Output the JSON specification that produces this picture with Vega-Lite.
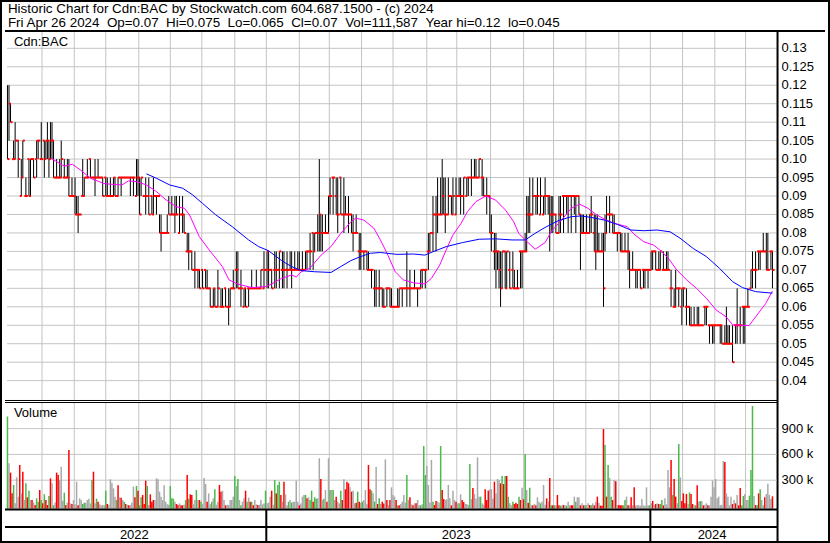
{
"$schema":"https://vega.github.io/schema/vega-lite/v6.json",
"width":830,"height":543,"padding":0,
"autosize":{"type":"none","contains":"padding"},
"background":"white",
"config":{"view":{"stroke":"black","strokeWidth":4}},
"datasets":{
"bars":[
{"t":0,"h":0.12,"l":0.1,"c":0.1,"v":1040,"k":"g"},
{"t":1,"h":0.12,"l":0.105,"c":0.115,"v":497,"k":"n"},
{"t":2,"h":0.115,"l":0.11,"c":0.11,"v":388,"k":"r"},
{"t":3,"h":0.1,"l":0.1,"c":0.1,"v":147,"k":"r"},
{"t":4,"h":0.105,"l":0.1,"c":0.1,"v":244,"k":"g"},
{"t":5,"h":0.11,"l":0.1,"c":0.105,"v":31,"k":"n"},
{"t":6,"h":0.105,"l":0.105,"c":0.105,"v":333,"k":"n"},
{"t":7,"h":0.105,"l":0.095,"c":0.1,"v":109,"k":"n"},
{"t":8,"h":0.09,"l":0.09,"c":0.09,"v":477,"k":"r"},
{"t":9,"h":0.1,"l":0.09,"c":0.095,"v":147,"k":"n"},
{"t":10,"h":0.105,"l":0.095,"c":0.105,"v":399,"k":"r"},
{"t":11,"h":0.09,"l":0.09,"c":0.09,"v":70,"k":"n"},
{"t":12,"h":0.095,"l":0.09,"c":0.09,"v":264,"k":"g"},
{"t":13,"h":0.1,"l":0.1,"c":0.1,"v":101,"k":"r"},
{"t":14,"h":0.1,"l":0.09,"c":0.09,"v":178,"k":"g"},
{"t":15,"h":0.1,"l":0.09,"c":0.1,"v":70,"k":"n"},
{"t":16,"h":0.1,"l":0.1,"c":0.1,"v":70,"k":"r"},
{"t":17,"h":0.1,"l":0.095,"c":0.095,"v":40,"k":"n"},
{"t":18,"h":0.1,"l":0.1,"c":0.1,"v":12,"k":"r"},
{"t":19,"h":0.105,"l":0.095,"c":0.105,"v":89,"k":"g"},
{"t":20,"h":0.105,"l":0.1,"c":0.105,"v":50,"k":"g"},
{"t":21,"h":0.1,"l":0.1,"c":0.1,"v":186,"k":"r"},
{"t":22,"h":0.11,"l":0.1,"c":0.1,"v":70,"k":"g"},
{"t":23,"h":0.105,"l":0.105,"c":0.105,"v":31,"k":"r"},
{"t":24,"h":0.105,"l":0.095,"c":0.1,"v":136,"k":"g"},
{"t":25,"h":0.105,"l":0.1,"c":0.105,"v":70,"k":"r"},
{"t":26,"h":0.11,"l":0.1,"c":0.105,"v":12,"k":"r"},
{"t":27,"h":0.105,"l":0.095,"c":0.1,"v":116,"k":"g"},
{"t":28,"h":0.11,"l":0.1,"c":0.105,"v":322,"k":"r"},
{"t":29,"h":0.11,"l":0.1,"c":0.105,"v":264,"k":"n"},
{"t":30,"h":0.105,"l":0.095,"c":0.095,"v":8,"k":"g"},
{"t":31,"h":0.095,"l":0.095,"c":0.095,"v":40,"k":"n"},
{"t":32,"h":0.1,"l":0.095,"c":0.095,"v":388,"k":"r"},
{"t":33,"h":0.095,"l":0.095,"c":0.095,"v":360,"k":"r"},
{"t":34,"h":0.1,"l":0.095,"c":0.095,"v":302,"k":"n"},
{"t":35,"h":0.105,"l":0.095,"c":0.1,"v":457,"k":"n"},
{"t":36,"h":0.095,"l":0.095,"c":0.095,"v":60,"k":"n"},
{"t":37,"h":0.1,"l":0.095,"c":0.095,"v":155,"k":"g"},
{"t":38,"h":0.095,"l":0.095,"c":0.095,"v":12,"k":"r"},
{"t":39,"h":0.1,"l":0.095,"c":0.095,"v":40,"k":"n"},
{"t":40,"h":0.1,"l":0.09,"c":0.09,"v":651,"k":"r"},
{"t":41,"h":0.09,"l":0.09,"c":0.09,"v":31,"k":"n"},
{"t":42,"h":0.095,"l":0.09,"c":0.09,"v":23,"k":"r"},
{"t":43,"h":0.09,"l":0.09,"c":0.09,"v":70,"k":"n"},
{"t":44,"h":0.095,"l":0.085,"c":0.085,"v":20,"k":"n"},
{"t":45,"h":0.09,"l":0.085,"c":0.085,"v":283,"k":"n"},
{"t":46,"h":0.09,"l":0.08,"c":0.085,"v":8,"k":"r"},
{"t":47,"h":0.085,"l":0.085,"c":0.085,"v":89,"k":"n"},
{"t":48,"h":0.09,"l":0.09,"c":0.09,"v":70,"k":"n"},
{"t":49,"h":0.1,"l":0.09,"c":0.09,"v":23,"k":"g"},
{"t":50,"h":0.095,"l":0.09,"c":0.095,"v":39,"k":"g"},
{"t":51,"h":0.095,"l":0.095,"c":0.095,"v":39,"k":"n"},
{"t":52,"h":0.1,"l":0.095,"c":0.095,"v":70,"k":"n"},
{"t":53,"h":0.1,"l":0.1,"c":0.1,"v":85,"k":"n"},
{"t":54,"h":0.1,"l":0.095,"c":0.095,"v":30,"k":"n"},
{"t":55,"h":0.095,"l":0.095,"c":0.095,"v":302,"k":"g"},
{"t":56,"h":0.095,"l":0.095,"c":0.095,"v":399,"k":"r"},
{"t":57,"h":0.1,"l":0.09,"c":0.095,"v":31,"k":"n"},
{"t":58,"h":0.095,"l":0.095,"c":0.095,"v":85,"k":"g"},
{"t":59,"h":0.1,"l":0.095,"c":0.095,"v":50,"k":"r"},
{"t":60,"h":0.095,"l":0.095,"c":0.095,"v":20,"k":"n"},
{"t":61,"h":0.095,"l":0.095,"c":0.095,"v":8,"k":"n"},
{"t":62,"h":0.095,"l":0.09,"c":0.09,"v":12,"k":"n"},
{"t":63,"h":0.095,"l":0.095,"c":0.095,"v":8,"k":"n"},
{"t":64,"h":0.095,"l":0.09,"c":0.09,"v":178,"k":"g"},
{"t":65,"h":0.095,"l":0.09,"c":0.09,"v":23,"k":"r"},
{"t":66,"h":0.09,"l":0.09,"c":0.09,"v":15,"k":"n"},
{"t":67,"h":0.095,"l":0.09,"c":0.09,"v":310,"k":"n"},
{"t":68,"h":0.09,"l":0.09,"c":0.09,"v":271,"k":"n"},
{"t":69,"h":0.095,"l":0.09,"c":0.095,"v":205,"k":"n"},
{"t":70,"h":0.095,"l":0.09,"c":0.09,"v":109,"k":"n"},
{"t":71,"h":0.09,"l":0.09,"c":0.09,"v":70,"k":"g"},
{"t":72,"h":0.095,"l":0.09,"c":0.095,"v":240,"k":"r"},
{"t":73,"h":0.095,"l":0.095,"c":0.095,"v":101,"k":"n"},
{"t":74,"h":0.095,"l":0.09,"c":0.095,"v":97,"k":"r"},
{"t":75,"h":0.095,"l":0.095,"c":0.095,"v":70,"k":"n"},
{"t":76,"h":0.095,"l":0.095,"c":0.095,"v":50,"k":"g"},
{"t":77,"h":0.095,"l":0.095,"c":0.095,"v":23,"k":"r"},
{"t":78,"h":0.095,"l":0.095,"c":0.095,"v":15,"k":"n"},
{"t":79,"h":0.095,"l":0.095,"c":0.095,"v":8,"k":"r"},
{"t":80,"h":0.095,"l":0.09,"c":0.095,"v":12,"k":"n"},
{"t":81,"h":0.095,"l":0.095,"c":0.095,"v":40,"k":"n"},
{"t":82,"h":0.095,"l":0.09,"c":0.095,"v":225,"k":"n"},
{"t":83,"h":0.09,"l":0.09,"c":0.09,"v":101,"k":"r"},
{"t":84,"h":0.1,"l":0.09,"c":0.095,"v":233,"k":"g"},
{"t":85,"h":0.1,"l":0.09,"c":0.095,"v":178,"k":"r"},
{"t":86,"h":0.095,"l":0.085,"c":0.085,"v":8,"k":"g"},
{"t":87,"h":0.095,"l":0.09,"c":0.095,"v":101,"k":"g"},
{"t":88,"h":0.09,"l":0.09,"c":0.09,"v":128,"k":"r"},
{"t":89,"h":0.09,"l":0.09,"c":0.09,"v":23,"k":"r"},
{"t":90,"h":0.095,"l":0.085,"c":0.09,"v":295,"k":"r"},
{"t":91,"h":0.09,"l":0.09,"c":0.09,"v":233,"k":"g"},
{"t":92,"h":0.095,"l":0.085,"c":0.085,"v":12,"k":"n"},
{"t":93,"h":0.09,"l":0.09,"c":0.09,"v":136,"k":"r"},
{"t":94,"h":0.09,"l":0.085,"c":0.085,"v":50,"k":"r"},
{"t":95,"h":0.095,"l":0.085,"c":0.09,"v":70,"k":"r"},
{"t":96,"h":0.09,"l":0.09,"c":0.09,"v":70,"k":"n"},
{"t":97,"h":0.09,"l":0.085,"c":0.09,"v":322,"k":"n"},
{"t":98,"h":0.09,"l":0.09,"c":0.09,"v":310,"k":"n"},
{"t":99,"h":0.085,"l":0.08,"c":0.08,"v":167,"k":"n"},
{"t":100,"h":0.085,"l":0.075,"c":0.08,"v":109,"k":"n"},
{"t":101,"h":0.08,"l":0.08,"c":0.08,"v":70,"k":"n"},
{"t":102,"h":0.08,"l":0.08,"c":0.08,"v":240,"k":"n"},
{"t":103,"h":0.08,"l":0.08,"c":0.08,"v":50,"k":"n"},
{"t":104,"h":0.085,"l":0.08,"c":0.08,"v":20,"k":"n"},
{"t":105,"h":0.09,"l":0.085,"c":0.085,"v":15,"k":"n"},
{"t":106,"h":0.085,"l":0.085,"c":0.085,"v":233,"k":"g"},
{"t":107,"h":0.09,"l":0.085,"c":0.085,"v":89,"k":"g"},
{"t":108,"h":0.085,"l":0.085,"c":0.085,"v":85,"k":"g"},
{"t":109,"h":0.09,"l":0.08,"c":0.085,"v":50,"k":"n"},
{"t":110,"h":0.09,"l":0.085,"c":0.085,"v":23,"k":"r"},
{"t":111,"h":0.08,"l":0.08,"c":0.08,"v":12,"k":"r"},
{"t":112,"h":0.09,"l":0.08,"c":0.085,"v":31,"k":"n"},
{"t":113,"h":0.085,"l":0.085,"c":0.085,"v":8,"k":"r"},
{"t":114,"h":0.09,"l":0.08,"c":0.085,"v":8,"k":"r"},
{"t":115,"h":0.085,"l":0.08,"c":0.08,"v":15,"k":"n"},
{"t":116,"h":0.075,"l":0.075,"c":0.075,"v":70,"k":"g"},
{"t":117,"h":0.08,"l":0.075,"c":0.075,"v":360,"k":"r"},
{"t":118,"h":0.08,"l":0.07,"c":0.075,"v":85,"k":"g"},
{"t":119,"h":0.075,"l":0.075,"c":0.075,"v":136,"k":"r"},
{"t":120,"h":0.075,"l":0.07,"c":0.07,"v":128,"k":"r"},
{"t":121,"h":0.07,"l":0.07,"c":0.07,"v":20,"k":"n"},
{"t":122,"h":0.075,"l":0.065,"c":0.07,"v":70,"k":"n"},
{"t":123,"h":0.07,"l":0.07,"c":0.07,"v":186,"k":"g"},
{"t":124,"h":0.07,"l":0.065,"c":0.07,"v":70,"k":"n"},
{"t":125,"h":0.07,"l":0.065,"c":0.065,"v":70,"k":"r"},
{"t":126,"h":0.07,"l":0.07,"c":0.07,"v":50,"k":"g"},
{"t":127,"h":0.07,"l":0.065,"c":0.065,"v":23,"k":"n"},
{"t":128,"h":0.07,"l":0.07,"c":0.07,"v":326,"k":"n"},
{"t":129,"h":0.07,"l":0.065,"c":0.065,"v":256,"k":"n"},
{"t":130,"h":0.07,"l":0.065,"c":0.065,"v":50,"k":"r"},
{"t":131,"h":0.065,"l":0.065,"c":0.065,"v":147,"k":"n"},
{"t":132,"h":0.065,"l":0.06,"c":0.06,"v":20,"k":"n"},
{"t":133,"h":0.06,"l":0.06,"c":0.06,"v":50,"k":"g"},
{"t":134,"h":0.065,"l":0.06,"c":0.065,"v":89,"k":"n"},
{"t":135,"h":0.065,"l":0.06,"c":0.06,"v":194,"k":"g"},
{"t":136,"h":0.06,"l":0.06,"c":0.06,"v":15,"k":"n"},
{"t":137,"h":0.07,"l":0.06,"c":0.065,"v":50,"k":"n"},
{"t":138,"h":0.06,"l":0.06,"c":0.06,"v":244,"k":"r"},
{"t":139,"h":0.065,"l":0.06,"c":0.06,"v":167,"k":"r"},
{"t":140,"h":0.065,"l":0.06,"c":0.06,"v":178,"k":"n"},
{"t":141,"h":0.065,"l":0.065,"c":0.065,"v":70,"k":"n"},
{"t":142,"h":0.065,"l":0.06,"c":0.06,"v":8,"k":"r"},
{"t":143,"h":0.06,"l":0.06,"c":0.06,"v":15,"k":"n"},
{"t":144,"h":0.065,"l":0.055,"c":0.06,"v":12,"k":"n"},
{"t":145,"h":0.065,"l":0.06,"c":0.065,"v":70,"k":"n"},
{"t":146,"h":0.065,"l":0.065,"c":0.065,"v":70,"k":"n"},
{"t":147,"h":0.07,"l":0.065,"c":0.065,"v":109,"k":"n"},
{"t":148,"h":0.07,"l":0.07,"c":0.07,"v":349,"k":"g"},
{"t":149,"h":0.075,"l":0.065,"c":0.07,"v":233,"k":"n"},
{"t":150,"h":0.075,"l":0.065,"c":0.065,"v":314,"k":"g"},
{"t":151,"h":0.065,"l":0.065,"c":0.065,"v":70,"k":"n"},
{"t":152,"h":0.07,"l":0.06,"c":0.065,"v":8,"k":"g"},
{"t":153,"h":0.06,"l":0.06,"c":0.06,"v":50,"k":"n"},
{"t":154,"h":0.065,"l":0.06,"c":0.065,"v":89,"k":"n"},
{"t":155,"h":0.065,"l":0.06,"c":0.06,"v":178,"k":"r"},
{"t":156,"h":0.065,"l":0.065,"c":0.065,"v":50,"k":"g"},
{"t":157,"h":0.065,"l":0.06,"c":0.065,"v":97,"k":"n"},
{"t":158,"h":0.065,"l":0.065,"c":0.065,"v":50,"k":"r"},
{"t":159,"h":0.07,"l":0.065,"c":0.065,"v":50,"k":"g"},
{"t":160,"h":0.065,"l":0.065,"c":0.065,"v":8,"k":"r"},
{"t":161,"h":0.065,"l":0.065,"c":0.065,"v":70,"k":"n"},
{"t":162,"h":0.07,"l":0.065,"c":0.065,"v":20,"k":"n"},
{"t":163,"h":0.065,"l":0.065,"c":0.065,"v":12,"k":"r"},
{"t":164,"h":0.065,"l":0.065,"c":0.065,"v":15,"k":"n"},
{"t":165,"h":0.07,"l":0.065,"c":0.07,"v":70,"k":"n"},
{"t":166,"h":0.065,"l":0.065,"c":0.065,"v":20,"k":"n"},
{"t":167,"h":0.075,"l":0.065,"c":0.07,"v":30,"k":"n"},
{"t":168,"h":0.07,"l":0.07,"c":0.07,"v":178,"k":"g"},
{"t":169,"h":0.075,"l":0.065,"c":0.075,"v":31,"k":"n"},
{"t":170,"h":0.075,"l":0.065,"c":0.07,"v":40,"k":"n"},
{"t":171,"h":0.07,"l":0.07,"c":0.07,"v":109,"k":"n"},
{"t":172,"h":0.07,"l":0.065,"c":0.065,"v":178,"k":"r"},
{"t":173,"h":0.07,"l":0.07,"c":0.07,"v":15,"k":"n"},
{"t":174,"h":0.075,"l":0.065,"c":0.07,"v":302,"k":"g"},
{"t":175,"h":0.075,"l":0.065,"c":0.07,"v":147,"k":"r"},
{"t":176,"h":0.07,"l":0.07,"c":0.07,"v":244,"k":"g"},
{"t":177,"h":0.075,"l":0.065,"c":0.075,"v":283,"k":"g"},
{"t":178,"h":0.07,"l":0.07,"c":0.07,"v":128,"k":"r"},
{"t":179,"h":0.075,"l":0.065,"c":0.07,"v":50,"k":"n"},
{"t":180,"h":0.075,"l":0.065,"c":0.07,"v":283,"k":"r"},
{"t":181,"h":0.07,"l":0.07,"c":0.07,"v":136,"k":"n"},
{"t":182,"h":0.075,"l":0.065,"c":0.07,"v":8,"k":"n"},
{"t":183,"h":0.07,"l":0.07,"c":0.07,"v":50,"k":"g"},
{"t":184,"h":0.075,"l":0.07,"c":0.07,"v":70,"k":"n"},
{"t":185,"h":0.075,"l":0.065,"c":0.07,"v":40,"k":"g"},
{"t":186,"h":0.07,"l":0.07,"c":0.07,"v":50,"k":"n"},
{"t":187,"h":0.075,"l":0.07,"c":0.07,"v":50,"k":"n"},
{"t":188,"h":0.07,"l":0.07,"c":0.07,"v":295,"k":"n"},
{"t":189,"h":0.075,"l":0.07,"c":0.07,"v":50,"k":"n"},
{"t":190,"h":0.075,"l":0.07,"c":0.07,"v":8,"k":"r"},
{"t":191,"h":0.07,"l":0.07,"c":0.07,"v":30,"k":"n"},
{"t":192,"h":0.075,"l":0.07,"c":0.07,"v":109,"k":"n"},
{"t":193,"h":0.07,"l":0.07,"c":0.07,"v":128,"k":"n"},
{"t":194,"h":0.075,"l":0.07,"c":0.075,"v":128,"k":"g"},
{"t":195,"h":0.075,"l":0.07,"c":0.075,"v":89,"k":"r"},
{"t":196,"h":0.075,"l":0.075,"c":0.075,"v":101,"k":"n"},
{"t":197,"h":0.08,"l":0.07,"c":0.075,"v":70,"k":"g"},
{"t":198,"h":0.08,"l":0.08,"c":0.08,"v":178,"k":"g"},
{"t":199,"h":0.08,"l":0.07,"c":0.075,"v":50,"k":"r"},
{"t":200,"h":0.08,"l":0.075,"c":0.08,"v":101,"k":"g"},
{"t":201,"h":0.08,"l":0.08,"c":0.08,"v":85,"k":"g"},
{"t":202,"h":0.085,"l":0.075,"c":0.08,"v":89,"k":"n"},
{"t":203,"h":0.1,"l":0.075,"c":0.085,"v":555,"k":"n"},
{"t":204,"h":0.085,"l":0.075,"c":0.08,"v":314,"k":"r"},
{"t":205,"h":0.085,"l":0.075,"c":0.08,"v":70,"k":"n"},
{"t":206,"h":0.08,"l":0.08,"c":0.08,"v":85,"k":"g"},
{"t":207,"h":0.085,"l":0.08,"c":0.08,"v":186,"k":"n"},
{"t":208,"h":0.08,"l":0.08,"c":0.08,"v":50,"k":"r"},
{"t":209,"h":0.09,"l":0.08,"c":0.09,"v":555,"k":"n"},
{"t":210,"h":0.095,"l":0.085,"c":0.09,"v":186,"k":"g"},
{"t":211,"h":0.095,"l":0.095,"c":0.095,"v":186,"k":"n"},
{"t":212,"h":0.095,"l":0.085,"c":0.095,"v":186,"k":"g"},
{"t":213,"h":0.09,"l":0.09,"c":0.09,"v":70,"k":"n"},
{"t":214,"h":0.095,"l":0.085,"c":0.085,"v":109,"k":"r"},
{"t":215,"h":0.095,"l":0.08,"c":0.085,"v":50,"k":"n"},
{"t":216,"h":0.095,"l":0.095,"c":0.095,"v":30,"k":"n"},
{"t":217,"h":0.095,"l":0.085,"c":0.085,"v":178,"k":"g"},
{"t":218,"h":0.085,"l":0.085,"c":0.085,"v":70,"k":"r"},
{"t":219,"h":0.095,"l":0.08,"c":0.085,"v":310,"k":"n"},
{"t":220,"h":0.09,"l":0.085,"c":0.085,"v":194,"k":"r"},
{"t":221,"h":0.085,"l":0.085,"c":0.085,"v":283,"k":"r"},
{"t":222,"h":0.09,"l":0.08,"c":0.085,"v":264,"k":"r"},
{"t":223,"h":0.085,"l":0.085,"c":0.085,"v":217,"k":"n"},
{"t":224,"h":0.085,"l":0.08,"c":0.08,"v":167,"k":"r"},
{"t":225,"h":0.085,"l":0.075,"c":0.08,"v":178,"k":"n"},
{"t":226,"h":0.08,"l":0.08,"c":0.08,"v":31,"k":"n"},
{"t":227,"h":0.085,"l":0.08,"c":0.08,"v":39,"k":"r"},
{"t":228,"h":0.075,"l":0.075,"c":0.075,"v":167,"k":"g"},
{"t":229,"h":0.08,"l":0.07,"c":0.075,"v":50,"k":"r"},
{"t":230,"h":0.08,"l":0.07,"c":0.075,"v":39,"k":"n"},
{"t":231,"h":0.075,"l":0.075,"c":0.075,"v":50,"k":"g"},
{"t":232,"h":0.075,"l":0.07,"c":0.075,"v":70,"k":"n"},
{"t":233,"h":0.075,"l":0.075,"c":0.075,"v":186,"k":"n"},
{"t":234,"h":0.075,"l":0.07,"c":0.07,"v":20,"k":"n"},
{"t":235,"h":0.075,"l":0.07,"c":0.07,"v":477,"k":"r"},
{"t":236,"h":0.07,"l":0.07,"c":0.07,"v":194,"k":"r"},
{"t":237,"h":0.07,"l":0.065,"c":0.07,"v":178,"k":"g"},
{"t":238,"h":0.065,"l":0.065,"c":0.065,"v":147,"k":"n"},
{"t":239,"h":0.07,"l":0.06,"c":0.065,"v":50,"k":"g"},
{"t":240,"h":0.07,"l":0.06,"c":0.065,"v":457,"k":"n"},
{"t":241,"h":0.065,"l":0.065,"c":0.065,"v":23,"k":"r"},
{"t":242,"h":0.07,"l":0.06,"c":0.065,"v":89,"k":"g"},
{"t":243,"h":0.065,"l":0.065,"c":0.065,"v":23,"k":"n"},
{"t":244,"h":0.065,"l":0.06,"c":0.06,"v":50,"k":"r"},
{"t":245,"h":0.065,"l":0.06,"c":0.06,"v":30,"k":"r"},
{"t":246,"h":0.065,"l":0.065,"c":0.065,"v":543,"k":"n"},
{"t":247,"h":0.065,"l":0.06,"c":0.065,"v":70,"k":"r"},
{"t":248,"h":0.065,"l":0.065,"c":0.065,"v":12,"k":"n"},
{"t":249,"h":0.065,"l":0.06,"c":0.06,"v":70,"k":"r"},
{"t":250,"h":0.065,"l":0.06,"c":0.06,"v":217,"k":"n"},
{"t":251,"h":0.06,"l":0.06,"c":0.06,"v":128,"k":"n"},
{"t":252,"h":0.06,"l":0.06,"c":0.06,"v":109,"k":"n"},
{"t":253,"h":0.06,"l":0.06,"c":0.06,"v":70,"k":"r"},
{"t":254,"h":0.065,"l":0.06,"c":0.06,"v":8,"k":"g"},
{"t":255,"h":0.065,"l":0.06,"c":0.065,"v":8,"k":"r"},
{"t":256,"h":0.065,"l":0.065,"c":0.065,"v":23,"k":"n"},
{"t":257,"h":0.065,"l":0.06,"c":0.065,"v":50,"k":"n"},
{"t":258,"h":0.065,"l":0.065,"c":0.065,"v":128,"k":"n"},
{"t":259,"h":0.065,"l":0.065,"c":0.065,"v":40,"k":"n"},
{"t":260,"h":0.075,"l":0.06,"c":0.065,"v":360,"k":"g"},
{"t":261,"h":0.065,"l":0.065,"c":0.065,"v":70,"k":"n"},
{"t":262,"h":0.07,"l":0.06,"c":0.065,"v":101,"k":"r"},
{"t":263,"h":0.065,"l":0.065,"c":0.065,"v":20,"k":"n"},
{"t":264,"h":0.065,"l":0.065,"c":0.065,"v":8,"k":"r"},
{"t":265,"h":0.07,"l":0.065,"c":0.065,"v":30,"k":"n"},
{"t":266,"h":0.065,"l":0.065,"c":0.065,"v":31,"k":"r"},
{"t":267,"h":0.065,"l":0.06,"c":0.065,"v":70,"k":"n"},
{"t":268,"h":0.065,"l":0.065,"c":0.065,"v":8,"k":"n"},
{"t":269,"h":0.07,"l":0.065,"c":0.07,"v":8,"k":"g"},
{"t":270,"h":0.07,"l":0.065,"c":0.07,"v":20,"k":"n"},
{"t":271,"h":0.07,"l":0.07,"c":0.07,"v":698,"k":"g"},
{"t":272,"h":0.07,"l":0.065,"c":0.07,"v":360,"k":"g"},
{"t":273,"h":0.075,"l":0.075,"c":0.075,"v":465,"k":"n"},
{"t":274,"h":0.08,"l":0.07,"c":0.075,"v":244,"k":"n"},
{"t":275,"h":0.08,"l":0.075,"c":0.08,"v":40,"k":"n"},
{"t":276,"h":0.08,"l":0.08,"c":0.08,"v":535,"k":"n"},
{"t":277,"h":0.09,"l":0.075,"c":0.085,"v":50,"k":"g"},
{"t":278,"h":0.085,"l":0.085,"c":0.085,"v":12,"k":"r"},
{"t":279,"h":0.09,"l":0.075,"c":0.085,"v":58,"k":"r"},
{"t":280,"h":0.095,"l":0.08,"c":0.085,"v":50,"k":"n"},
{"t":281,"h":0.085,"l":0.085,"c":0.085,"v":39,"k":"n"},
{"t":282,"h":0.095,"l":0.085,"c":0.085,"v":698,"k":"g"},
{"t":283,"h":0.1,"l":0.085,"c":0.09,"v":186,"k":"r"},
{"t":284,"h":0.095,"l":0.085,"c":0.085,"v":81,"k":"r"},
{"t":285,"h":0.095,"l":0.08,"c":0.085,"v":70,"k":"n"},
{"t":286,"h":0.085,"l":0.085,"c":0.085,"v":78,"k":"n"},
{"t":287,"h":0.095,"l":0.085,"c":0.09,"v":244,"k":"n"},
{"t":288,"h":0.09,"l":0.09,"c":0.09,"v":89,"k":"n"},
{"t":289,"h":0.09,"l":0.085,"c":0.085,"v":8,"k":"r"},
{"t":290,"h":0.095,"l":0.085,"c":0.09,"v":178,"k":"n"},
{"t":291,"h":0.085,"l":0.085,"c":0.085,"v":70,"k":"n"},
{"t":292,"h":0.095,"l":0.085,"c":0.09,"v":50,"k":"r"},
{"t":293,"h":0.09,"l":0.09,"c":0.09,"v":31,"k":"n"},
{"t":294,"h":0.095,"l":0.09,"c":0.09,"v":31,"k":"g"},
{"t":295,"h":0.095,"l":0.085,"c":0.09,"v":136,"k":"n"},
{"t":296,"h":0.09,"l":0.09,"c":0.09,"v":70,"k":"r"},
{"t":297,"h":0.095,"l":0.085,"c":0.095,"v":46,"k":"r"},
{"t":298,"h":0.09,"l":0.09,"c":0.09,"v":23,"k":"n"},
{"t":299,"h":0.095,"l":0.09,"c":0.095,"v":23,"k":"n"},
{"t":300,"h":0.095,"l":0.09,"c":0.095,"v":12,"k":"n"},
{"t":301,"h":0.095,"l":0.095,"c":0.095,"v":488,"k":"g"},
{"t":302,"h":0.1,"l":0.09,"c":0.095,"v":81,"k":"n"},
{"t":303,"h":0.095,"l":0.095,"c":0.095,"v":209,"k":"r"},
{"t":304,"h":0.1,"l":0.095,"c":0.095,"v":140,"k":"n"},
{"t":305,"h":0.1,"l":0.095,"c":0.095,"v":85,"k":"n"},
{"t":306,"h":0.095,"l":0.095,"c":0.095,"v":566,"k":"n"},
{"t":307,"h":0.1,"l":0.095,"c":0.1,"v":109,"k":"n"},
{"t":308,"h":0.095,"l":0.095,"c":0.095,"v":109,"k":"g"},
{"t":309,"h":0.1,"l":0.09,"c":0.095,"v":31,"k":"n"},
{"t":310,"h":0.095,"l":0.09,"c":0.09,"v":15,"k":"n"},
{"t":311,"h":0.09,"l":0.09,"c":0.09,"v":194,"k":"r"},
{"t":312,"h":0.095,"l":0.085,"c":0.09,"v":70,"k":"r"},
{"t":313,"h":0.09,"l":0.09,"c":0.09,"v":178,"k":"r"},
{"t":314,"h":0.09,"l":0.08,"c":0.08,"v":194,"k":"n"},
{"t":315,"h":0.085,"l":0.075,"c":0.08,"v":194,"k":"n"},
{"t":316,"h":0.075,"l":0.075,"c":0.075,"v":85,"k":"n"},
{"t":317,"h":0.08,"l":0.07,"c":0.075,"v":283,"k":"r"},
{"t":318,"h":0.08,"l":0.065,"c":0.075,"v":147,"k":"n"},
{"t":319,"h":0.075,"l":0.07,"c":0.075,"v":314,"k":"n"},
{"t":320,"h":0.075,"l":0.065,"c":0.07,"v":302,"k":"n"},
{"t":321,"h":0.075,"l":0.06,"c":0.065,"v":264,"k":"r"},
{"t":322,"h":0.075,"l":0.065,"c":0.075,"v":349,"k":"g"},
{"t":323,"h":0.075,"l":0.075,"c":0.075,"v":256,"k":"r"},
{"t":324,"h":0.075,"l":0.065,"c":0.065,"v":349,"k":"g"},
{"t":325,"h":0.075,"l":0.065,"c":0.075,"v":349,"k":"r"},
{"t":326,"h":0.07,"l":0.07,"c":0.07,"v":109,"k":"g"},
{"t":327,"h":0.075,"l":0.065,"c":0.065,"v":31,"k":"n"},
{"t":328,"h":0.07,"l":0.07,"c":0.07,"v":8,"k":"n"},
{"t":329,"h":0.075,"l":0.065,"c":0.065,"v":50,"k":"g"},
{"t":330,"h":0.07,"l":0.065,"c":0.065,"v":23,"k":"r"},
{"t":331,"h":0.065,"l":0.065,"c":0.065,"v":39,"k":"r"},
{"t":332,"h":0.07,"l":0.065,"c":0.065,"v":23,"k":"r"},
{"t":333,"h":0.075,"l":0.075,"c":0.075,"v":109,"k":"g"},
{"t":334,"h":0.075,"l":0.065,"c":0.075,"v":70,"k":"r"},
{"t":335,"h":0.075,"l":0.065,"c":0.075,"v":212,"k":"n"},
{"t":336,"h":0.075,"l":0.075,"c":0.075,"v":78,"k":"r"},
{"t":337,"h":0.08,"l":0.075,"c":0.075,"v":605,"k":"g"},
{"t":338,"h":0.09,"l":0.075,"c":0.085,"v":186,"k":"n"},
{"t":339,"h":0.09,"l":0.08,"c":0.085,"v":39,"k":"r"},
{"t":340,"h":0.095,"l":0.08,"c":0.085,"v":212,"k":"g"},
{"t":341,"h":0.085,"l":0.085,"c":0.085,"v":8,"k":"n"},
{"t":342,"h":0.095,"l":0.085,"c":0.09,"v":8,"k":"r"},
{"t":343,"h":0.09,"l":0.09,"c":0.09,"v":23,"k":"n"},
{"t":344,"h":0.09,"l":0.085,"c":0.09,"v":8,"k":"r"},
{"t":345,"h":0.095,"l":0.085,"c":0.09,"v":101,"k":"n"},
{"t":346,"h":0.085,"l":0.085,"c":0.085,"v":50,"k":"n"},
{"t":347,"h":0.095,"l":0.085,"c":0.09,"v":31,"k":"g"},
{"t":348,"h":0.085,"l":0.085,"c":0.085,"v":50,"k":"n"},
{"t":349,"h":0.09,"l":0.085,"c":0.09,"v":244,"k":"n"},
{"t":350,"h":0.095,"l":0.085,"c":0.09,"v":15,"k":"n"},
{"t":351,"h":0.09,"l":0.09,"c":0.09,"v":89,"k":"r"},
{"t":352,"h":0.09,"l":0.085,"c":0.09,"v":50,"k":"n"},
{"t":353,"h":0.09,"l":0.075,"c":0.085,"v":326,"k":"r"},
{"t":354,"h":0.09,"l":0.08,"c":0.085,"v":8,"k":"g"},
{"t":355,"h":0.09,"l":0.08,"c":0.085,"v":8,"k":"r"},
{"t":356,"h":0.085,"l":0.085,"c":0.085,"v":8,"k":"g"},
{"t":357,"h":0.085,"l":0.08,"c":0.08,"v":8,"k":"n"},
{"t":358,"h":0.08,"l":0.08,"c":0.08,"v":128,"k":"r"},
{"t":359,"h":0.09,"l":0.08,"c":0.085,"v":8,"k":"r"},
{"t":360,"h":0.09,"l":0.08,"c":0.085,"v":4,"k":"g"},
{"t":361,"h":0.09,"l":0.09,"c":0.09,"v":8,"k":"n"},
{"t":362,"h":0.09,"l":0.08,"c":0.09,"v":12,"k":"r"},
{"t":363,"h":0.09,"l":0.09,"c":0.09,"v":8,"k":"n"},
{"t":364,"h":0.09,"l":0.085,"c":0.09,"v":4,"k":"g"},
{"t":365,"h":0.09,"l":0.08,"c":0.09,"v":50,"k":"n"},
{"t":366,"h":0.09,"l":0.09,"c":0.09,"v":8,"k":"n"},
{"t":367,"h":0.09,"l":0.08,"c":0.09,"v":8,"k":"r"},
{"t":368,"h":0.09,"l":0.09,"c":0.09,"v":8,"k":"r"},
{"t":369,"h":0.09,"l":0.085,"c":0.09,"v":109,"k":"n"},
{"t":370,"h":0.09,"l":0.08,"c":0.09,"v":50,"k":"g"},
{"t":371,"h":0.09,"l":0.09,"c":0.09,"v":101,"k":"n"},
{"t":372,"h":0.09,"l":0.085,"c":0.085,"v":101,"k":"n"},
{"t":373,"h":0.085,"l":0.07,"c":0.08,"v":8,"k":"r"},
{"t":374,"h":0.085,"l":0.08,"c":0.08,"v":31,"k":"n"},
{"t":375,"h":0.085,"l":0.08,"c":0.08,"v":8,"k":"r"},
{"t":376,"h":0.08,"l":0.08,"c":0.08,"v":8,"k":"g"},
{"t":377,"h":0.085,"l":0.08,"c":0.08,"v":12,"k":"n"},
{"t":378,"h":0.08,"l":0.08,"c":0.08,"v":31,"k":"n"},
{"t":379,"h":0.085,"l":0.08,"c":0.085,"v":12,"k":"r"},
{"t":380,"h":0.09,"l":0.08,"c":0.085,"v":8,"k":"g"},
{"t":381,"h":0.08,"l":0.08,"c":0.08,"v":31,"k":"n"},
{"t":382,"h":0.085,"l":0.075,"c":0.075,"v":8,"k":"r"},
{"t":383,"h":0.085,"l":0.07,"c":0.075,"v":50,"k":"n"},
{"t":384,"h":0.085,"l":0.075,"c":0.075,"v":109,"k":"r"},
{"t":385,"h":0.08,"l":0.075,"c":0.075,"v":39,"k":"n"},
{"t":386,"h":0.075,"l":0.075,"c":0.075,"v":4,"k":"r"},
{"t":387,"h":0.08,"l":0.075,"c":0.075,"v":4,"k":"r"},
{"t":388,"h":0.08,"l":0.06,"c":0.065,"v":895,"k":"r"},
{"t":389,"h":0.085,"l":0.075,"c":0.08,"v":709,"k":"g"},
{"t":390,"h":0.09,"l":0.08,"c":0.085,"v":109,"k":"r"},
{"t":391,"h":0.085,"l":0.085,"c":0.085,"v":477,"k":"g"},
{"t":392,"h":0.09,"l":0.08,"c":0.085,"v":326,"k":"n"},
{"t":393,"h":0.085,"l":0.085,"c":0.085,"v":109,"k":"g"},
{"t":394,"h":0.085,"l":0.08,"c":0.08,"v":70,"k":"r"},
{"t":395,"h":0.085,"l":0.08,"c":0.08,"v":302,"k":"n"},
{"t":396,"h":0.08,"l":0.08,"c":0.08,"v":287,"k":"r"},
{"t":397,"h":0.08,"l":0.075,"c":0.08,"v":12,"k":"n"},
{"t":398,"h":0.08,"l":0.08,"c":0.08,"v":12,"k":"r"},
{"t":399,"h":0.08,"l":0.075,"c":0.075,"v":8,"k":"r"},
{"t":400,"h":0.08,"l":0.075,"c":0.075,"v":8,"k":"r"},
{"t":401,"h":0.075,"l":0.075,"c":0.075,"v":8,"k":"g"},
{"t":402,"h":0.08,"l":0.075,"c":0.075,"v":70,"k":"g"},
{"t":403,"h":0.075,"l":0.075,"c":0.075,"v":109,"k":"n"},
{"t":404,"h":0.08,"l":0.07,"c":0.075,"v":8,"k":"r"},
{"t":405,"h":0.075,"l":0.065,"c":0.07,"v":8,"k":"n"},
{"t":406,"h":0.07,"l":0.07,"c":0.07,"v":101,"k":"r"},
{"t":407,"h":0.075,"l":0.07,"c":0.07,"v":8,"k":"n"},
{"t":408,"h":0.07,"l":0.07,"c":0.07,"v":217,"k":"r"},
{"t":409,"h":0.07,"l":0.065,"c":0.07,"v":8,"k":"n"},
{"t":410,"h":0.07,"l":0.065,"c":0.07,"v":8,"k":"n"},
{"t":411,"h":0.07,"l":0.07,"c":0.07,"v":8,"k":"n"},
{"t":412,"h":0.07,"l":0.065,"c":0.065,"v":4,"k":"n"},
{"t":413,"h":0.07,"l":0.07,"c":0.07,"v":81,"k":"n"},
{"t":414,"h":0.07,"l":0.065,"c":0.07,"v":8,"k":"n"},
{"t":415,"h":0.07,"l":0.065,"c":0.07,"v":4,"k":"n"},
{"t":416,"h":0.07,"l":0.07,"c":0.07,"v":217,"k":"n"},
{"t":417,"h":0.07,"l":0.065,"c":0.07,"v":8,"k":"n"},
{"t":418,"h":0.07,"l":0.07,"c":0.07,"v":8,"k":"g"},
{"t":419,"h":0.075,"l":0.07,"c":0.075,"v":31,"k":"n"},
{"t":420,"h":0.075,"l":0.07,"c":0.075,"v":58,"k":"r"},
{"t":421,"h":0.075,"l":0.075,"c":0.075,"v":8,"k":"n"},
{"t":422,"h":0.075,"l":0.07,"c":0.07,"v":23,"k":"r"},
{"t":423,"h":0.07,"l":0.07,"c":0.07,"v":31,"k":"n"},
{"t":424,"h":0.075,"l":0.07,"c":0.07,"v":23,"k":"r"},
{"t":425,"h":0.075,"l":0.07,"c":0.075,"v":23,"k":"g"},
{"t":426,"h":0.07,"l":0.07,"c":0.07,"v":70,"k":"g"},
{"t":427,"h":0.075,"l":0.07,"c":0.07,"v":8,"k":"r"},
{"t":428,"h":0.07,"l":0.07,"c":0.07,"v":89,"k":"n"},
{"t":429,"h":0.075,"l":0.07,"c":0.07,"v":20,"k":"n"},
{"t":430,"h":0.075,"l":0.07,"c":0.07,"v":419,"k":"n"},
{"t":431,"h":0.065,"l":0.065,"c":0.065,"v":217,"k":"n"},
{"t":432,"h":0.07,"l":0.06,"c":0.065,"v":535,"k":"r"},
{"t":433,"h":0.06,"l":0.06,"c":0.06,"v":128,"k":"g"},
{"t":434,"h":0.065,"l":0.06,"c":0.06,"v":314,"k":"r"},
{"t":435,"h":0.07,"l":0.06,"c":0.065,"v":109,"k":"r"},
{"t":436,"h":0.065,"l":0.065,"c":0.065,"v":31,"k":"n"},
{"t":437,"h":0.065,"l":0.06,"c":0.065,"v":721,"k":"g"},
{"t":438,"h":0.06,"l":0.06,"c":0.06,"v":333,"k":"n"},
{"t":439,"h":0.065,"l":0.055,"c":0.065,"v":58,"k":"r"},
{"t":440,"h":0.065,"l":0.06,"c":0.065,"v":147,"k":"r"},
{"t":441,"h":0.06,"l":0.06,"c":0.06,"v":31,"k":"r"},
{"t":442,"h":0.065,"l":0.055,"c":0.06,"v":140,"k":"r"},
{"t":443,"h":0.06,"l":0.06,"c":0.06,"v":23,"k":"n"},
{"t":444,"h":0.06,"l":0.055,"c":0.055,"v":158,"k":"g"},
{"t":445,"h":0.06,"l":0.055,"c":0.055,"v":140,"k":"r"},
{"t":446,"h":0.055,"l":0.055,"c":0.055,"v":23,"k":"r"},
{"t":447,"h":0.06,"l":0.055,"c":0.055,"v":12,"k":"n"},
{"t":448,"h":0.055,"l":0.055,"c":0.055,"v":8,"k":"g"},
{"t":449,"h":0.06,"l":0.055,"c":0.055,"v":240,"k":"r"},
{"t":450,"h":0.06,"l":0.055,"c":0.055,"v":50,"k":"n"},
{"t":451,"h":0.055,"l":0.055,"c":0.055,"v":58,"k":"g"},
{"t":452,"h":0.055,"l":0.055,"c":0.055,"v":54,"k":"n"},
{"t":453,"h":0.06,"l":0.06,"c":0.06,"v":8,"k":"r"},
{"t":454,"h":0.06,"l":0.055,"c":0.06,"v":15,"k":"n"},
{"t":455,"h":0.06,"l":0.055,"c":0.06,"v":31,"k":"n"},
{"t":456,"h":0.055,"l":0.055,"c":0.055,"v":8,"k":"r"},
{"t":457,"h":0.055,"l":0.05,"c":0.055,"v":8,"k":"n"},
{"t":458,"h":0.055,"l":0.055,"c":0.055,"v":109,"k":"n"},
{"t":459,"h":0.055,"l":0.05,"c":0.055,"v":295,"k":"n"},
{"t":460,"h":0.055,"l":0.05,"c":0.055,"v":217,"k":"n"},
{"t":461,"h":0.055,"l":0.055,"c":0.055,"v":314,"k":"n"},
{"t":462,"h":0.055,"l":0.055,"c":0.055,"v":89,"k":"n"},
{"t":463,"h":0.055,"l":0.055,"c":0.055,"v":109,"k":"n"},
{"t":464,"h":0.055,"l":0.05,"c":0.055,"v":8,"k":"n"},
{"t":465,"h":0.055,"l":0.05,"c":0.05,"v":15,"k":"n"},
{"t":466,"h":0.05,"l":0.05,"c":0.05,"v":523,"k":"n"},
{"t":467,"h":0.055,"l":0.05,"c":0.05,"v":512,"k":"r"},
{"t":468,"h":0.06,"l":0.05,"c":0.05,"v":147,"k":"n"},
{"t":469,"h":0.055,"l":0.05,"c":0.05,"v":109,"k":"n"},
{"t":470,"h":0.055,"l":0.05,"c":0.05,"v":8,"k":"n"},
{"t":471,"h":0.05,"l":0.05,"c":0.05,"v":109,"k":"n"},
{"t":472,"h":0.055,"l":0.045,"c":0.045,"v":23,"k":"r"},
{"t":473,"h":0.055,"l":0.055,"c":0.055,"v":70,"k":"n"},
{"t":474,"h":0.055,"l":0.05,"c":0.055,"v":31,"k":"r"},
{"t":475,"h":0.065,"l":0.05,"c":0.055,"v":128,"k":"n"},
{"t":476,"h":0.055,"l":0.055,"c":0.055,"v":8,"k":"r"},
{"t":477,"h":0.06,"l":0.05,"c":0.055,"v":210,"k":"r"},
{"t":478,"h":0.06,"l":0.06,"c":0.06,"v":8,"k":"g"},
{"t":479,"h":0.06,"l":0.05,"c":0.06,"v":116,"k":"g"},
{"t":480,"h":0.06,"l":0.05,"c":0.06,"v":140,"k":"n"},
{"t":481,"h":0.06,"l":0.06,"c":0.06,"v":70,"k":"n"},
{"t":482,"h":0.065,"l":0.06,"c":0.06,"v":70,"k":"n"},
{"t":483,"h":0.065,"l":0.065,"c":0.065,"v":120,"k":"g"},
{"t":484,"h":0.07,"l":0.065,"c":0.07,"v":419,"k":"g"},
{"t":485,"h":0.075,"l":0.065,"c":0.07,"v":1163,"k":"g"},
{"t":486,"h":0.07,"l":0.07,"c":0.07,"v":116,"k":"n"},
{"t":487,"h":0.075,"l":0.065,"c":0.07,"v":12,"k":"r"},
{"t":488,"h":0.075,"l":0.075,"c":0.075,"v":8,"k":"g"},
{"t":489,"h":0.075,"l":0.07,"c":0.075,"v":147,"k":"r"},
{"t":490,"h":0.075,"l":0.07,"c":0.075,"v":194,"k":"g"},
{"t":491,"h":0.075,"l":0.075,"c":0.075,"v":70,"k":"n"},
{"t":492,"h":0.08,"l":0.075,"c":0.075,"v":8,"k":"n"},
{"t":493,"h":0.075,"l":0.075,"c":0.075,"v":101,"k":"r"},
{"t":494,"h":0.08,"l":0.07,"c":0.07,"v":140,"k":"n"},
{"t":495,"h":0.08,"l":0.07,"c":0.07,"v":260,"k":"n"},
{"t":496,"h":0.075,"l":0.075,"c":0.075,"v":128,"k":"n"},
{"t":497,"h":0.075,"l":0.07,"c":0.075,"v":81,"k":"n"},
{"t":498,"h":0.075,"l":0.065,"c":0.07,"v":112,"k":"r"}
],
"m20":[
{"t":28.4,"p":0.1002},{"t":37.0,"p":0.0981},{"t":42.3,"p":0.0986},{"t":47.7,"p":0.097},{"t":54.1,"p":0.0948},{"t":62.7,"p":0.0934},{"t":67.0,"p":0.0932},{"t":74.5,"p":0.093},{"t":78.8,"p":0.0941},{"t":84.1,"p":0.0939},{"t":90.5,"p":0.093},{"t":97.0,"p":0.0912},{"t":103.4,"p":0.0889},{"t":109.8,"p":0.0871},{"t":115.2,"p":0.0867},{"t":118.5,"p":0.0849},{"t":124.9,"p":0.079},{"t":131.3,"p":0.0754},{"t":139.9,"p":0.0709},{"t":144.2,"p":0.0673},{"t":149.5,"p":0.0662},{"t":159.2,"p":0.0652},{"t":168.8,"p":0.0655},{"t":178.5,"p":0.0677},{"t":184.9,"p":0.0686},{"t":188.1,"p":0.0681},{"t":191.3,"p":0.0695},{"t":196.7,"p":0.0704},{"t":204.2,"p":0.074},{"t":210.6,"p":0.0763},{"t":217.0,"p":0.0799},{"t":223.5,"p":0.083},{"t":226.7,"p":0.084},{"t":232.0,"p":0.0835},{"t":238.5,"p":0.0813},{"t":242.8,"p":0.0781},{"t":247.1,"p":0.0745},{"t":252.4,"p":0.0695},{"t":257.7,"p":0.0673},{"t":264.2,"p":0.0665},{"t":271.7,"p":0.0662},{"t":276.0,"p":0.0677},{"t":281.4,"p":0.0713},{"t":285.6,"p":0.0754},{"t":289.9,"p":0.0794},{"t":295.3,"p":0.0826},{"t":299.5,"p":0.0858},{"t":305.0,"p":0.0885},{"t":311.4,"p":0.09},{"t":317.8,"p":0.0889},{"t":324.2,"p":0.0862},{"t":329.6,"p":0.083},{"t":332.8,"p":0.0799},{"t":337.1,"p":0.0781},{"t":343.5,"p":0.0756},{"t":350.0,"p":0.0774},{"t":354.2,"p":0.0805},{"t":360.7,"p":0.0835},{"t":367.1,"p":0.0867},{"t":372.5,"p":0.0878},{"t":377.8,"p":0.0867},{"t":383.2,"p":0.085},{"t":388.6,"p":0.0837},{"t":395.0,"p":0.0826},{"t":403.5,"p":0.0817},{"t":407.8,"p":0.0797},{"t":414.3,"p":0.0776},{"t":420.7,"p":0.0767},{"t":426.0,"p":0.0749},{"t":430.3,"p":0.0731},{"t":435.7,"p":0.07},{"t":442.1,"p":0.0673},{"t":448.6,"p":0.065},{"t":455.0,"p":0.0623},{"t":461.4,"p":0.0591},{"t":467.8,"p":0.0573},{"t":472.1,"p":0.0551},{"t":482.8,"p":0.0549},{"t":487.1,"p":0.0573},{"t":493.6,"p":0.0609},{"t":498.0,"p":0.0643}
],
"m50":[
{"t":90.5,"p":0.096},{"t":97.0,"p":0.0948},{"t":105.6,"p":0.093},{"t":114.1,"p":0.0921},{"t":120.6,"p":0.0903},{"t":127.0,"p":0.088},{"t":135.6,"p":0.0849},{"t":146.3,"p":0.0817},{"t":157.0,"p":0.0781},{"t":163.5,"p":0.0763},{"t":169.9,"p":0.0752},{"t":178.5,"p":0.0725},{"t":184.9,"p":0.0709},{"t":191.3,"p":0.0698},{"t":199.9,"p":0.0695},{"t":210.6,"p":0.0693},{"t":217.0,"p":0.0709},{"t":223.5,"p":0.0725},{"t":229.9,"p":0.0736},{"t":236.3,"p":0.0745},{"t":242.8,"p":0.0747},{"t":253.5,"p":0.0742},{"t":264.2,"p":0.0743},{"t":271.7,"p":0.074},{"t":277.0,"p":0.0749},{"t":285.6,"p":0.0763},{"t":296.3,"p":0.0774},{"t":307.1,"p":0.0783},{"t":317.8,"p":0.0784},{"t":328.5,"p":0.0781},{"t":337.1,"p":0.0781},{"t":343.5,"p":0.0799},{"t":350.0,"p":0.0815},{"t":358.5,"p":0.0833},{"t":367.1,"p":0.0844},{"t":373.5,"p":0.0846},{"t":380.0,"p":0.0842},{"t":388.6,"p":0.0835},{"t":397.1,"p":0.0823},{"t":405.7,"p":0.0808},{"t":414.3,"p":0.0806},{"t":422.8,"p":0.0808},{"t":431.4,"p":0.0803},{"t":437.8,"p":0.0786},{"t":446.4,"p":0.0758},{"t":455.0,"p":0.0736},{"t":463.6,"p":0.0704},{"t":472.1,"p":0.0668},{"t":478.5,"p":0.0652},{"t":487.1,"p":0.0641},{"t":498.0,"p":0.0637}
],
"months":[{"g":22.5},{"g":43.5},{"g":64},{"g":85.5},{"g":106},{"g":126.5},{"g":148},{"g":168.5},{"g":190},{"g":209.5},{"g":230.5},{"g":251},{"g":273},{"g":292.5},{"g":314.5},{"g":336},{"g":355.5},{"g":376.5},{"g":398},{"g":418.5},{"g":439.5},{"g":460.5},{"g":480.5}],
"plev":[{"p":0.13,"s":"0.13"},{"p":0.125,"s":"0.125"},{"p":0.12,"s":"0.12"},{"p":0.115,"s":"0.115"},{"p":0.11,"s":"0.11"},{"p":0.105,"s":"0.105"},{"p":0.1,"s":"0.10"},{"p":0.095,"s":"0.095"},{"p":0.09,"s":"0.09"},{"p":0.085,"s":"0.085"},{"p":0.08,"s":"0.08"},{"p":0.075,"s":"0.075"},{"p":0.07,"s":"0.07"},{"p":0.065,"s":"0.065"},{"p":0.06,"s":"0.06"},{"p":0.055,"s":"0.055"},{"p":0.05,"s":"0.05"},{"p":0.045,"s":"0.045"},{"p":0.04,"s":"0.04"}],
"vlev":[{"v":300,"s":"300 k"},{"v":600,"s":"600 k"},{"v":900,"s":"900 k"}],
"years":[{"t":82.6,"s":"2022"},{"t":292.1,"s":"2023"},{"t":458.7,"s":"2024"}]
},
"resolve":{"scale":{"y":"independent"}},
"layer":[
{"layer":[
{"data":{"name":"plev"},"mark":{"type":"rule","color":"#c4c4c4","strokeWidth":1},
 "encoding":{"x":{"datum":-0.3,"type":"quantitative","scale":{"domain":[-1.6,532.2],"nice":false,"zero":false},"axis":null},"x2":{"datum":500.7},
 "y":{"field":"p","type":"quantitative","scale":{"domain":[-0.00396,0.14308],"nice":false,"zero":false},"axis":null}}},
{"data":{"name":"months"},"mark":{"type":"rule","color":"#c4c4c4","strokeWidth":1},
 "encoding":{"x":{"field":"g","type":"quantitative","axis":null},"y":{"datum":0.0348,"type":"quantitative","axis":null},"y2":{"datum":0.1345}}},
{"data":{"name":"bars"},"mark":{"type":"rule","color":"black","strokeWidth":1},
 "encoding":{"x":{"field":"t","type":"quantitative","axis":null},"y":{"field":"l","type":"quantitative","axis":null},"y2":{"field":"h"}}},
{"data":{"name":"bars"},"mark":{"type":"point","shape":"square","filled":true,"size":4,"color":"#ff0000","opacity":1,"xOffset":1},
 "encoding":{"x":{"field":"t","type":"quantitative","axis":null},"y":{"field":"c","type":"quantitative","axis":null}}},
{"data":{"name":"m20"},"mark":{"type":"line","color":"#ff00ff","strokeWidth":1},
 "encoding":{"x":{"field":"t","type":"quantitative","axis":null},"y":{"field":"p","type":"quantitative","axis":null}}},
{"data":{"name":"m50"},"mark":{"type":"line","color":"#0000ff","strokeWidth":1},
 "encoding":{"x":{"field":"t","type":"quantitative","axis":null},"y":{"field":"p","type":"quantitative","axis":null}}},
{"data":{"name":"plev"},"mark":{"type":"text","align":"left","baseline":"middle","font":"Liberation Sans","fontSize":13,"color":"black"},
 "encoding":{"x":{"datum":503.9,"type":"quantitative","axis":null},"y":{"field":"p","type":"quantitative","axis":null},"text":{"field":"s"}}},
{"data":{"values":[{"s":"Cdn:BAC"}]},"mark":{"type":"text","align":"left","baseline":"middle","font":"Liberation Sans","fontSize":13,"color":"black"},
 "encoding":{"x":{"datum":4.2,"type":"quantitative","axis":null},"y":{"datum":0.1318,"type":"quantitative","axis":null},"text":{"field":"s"}}},
{"data":{"values":[{"s":"Historic Chart for Cdn:BAC by Stockwatch.com 604.687.1500 - (c) 2024"}]},"mark":{"type":"text","align":"left","baseline":"middle","font":"Liberation Sans","fontSize":13.4,"color":"black"},
 "encoding":{"x":{"datum":0.3,"type":"quantitative","axis":null},"y":{"datum":0.14065,"type":"quantitative","axis":null},"text":{"field":"s"}}},
{"data":{"values":[{"s":"Fri Apr 26 2024 \u00a0Op=0.07 \u00a0Hi=0.075 \u00a0Lo=0.065 \u00a0Cl=0.07 \u00a0Vol=111,587 \u00a0Year hi=0.12 \u00a0lo=0.045"}]},"mark":{"type":"text","align":"left","baseline":"middle","font":"Liberation Sans","fontSize":13.4,"color":"black"},
 "encoding":{"x":{"datum":0.3,"type":"quantitative","axis":null},"y":{"datum":0.13672,"type":"quantitative","axis":null},"text":{"field":"s"}}},
{"data":{"values":[{}]},"mark":{"type":"rule","color":"black","strokeWidth":2},
 "encoding":{"x":{"datum":-1.6,"type":"quantitative","axis":null},"x2":{"datum":532.2},"y":{"datum":0.1347,"type":"quantitative","axis":null}}},
{"data":{"values":[{}]},"mark":{"type":"rule","color":"black","strokeWidth":1},
 "encoding":{"x":{"datum":-1.6,"type":"quantitative","axis":null},"x2":{"datum":501.3},"y":{"datum":0.03463,"type":"quantitative","axis":null}}},
{"data":{"values":[{}]},"mark":{"type":"rule","color":"black","strokeWidth":2},
 "encoding":{"x":{"datum":501.3,"type":"quantitative","axis":null},"y":{"datum":0.1347,"type":"quantitative","axis":null},"y2":{"datum":-0.00396}}}
]},
{"layer":[
{"data":{"name":"vlev"},"mark":{"type":"rule","color":"#c4c4c4","strokeWidth":1},
 "encoding":{"x":{"datum":-0.3,"type":"quantitative","axis":null},"x2":{"datum":500.7},
 "y":{"field":"v","type":"quantitative","scale":{"domain":[-430.2,5883.7],"nice":false,"zero":false},"axis":null}}},
{"data":{"name":"months"},"mark":{"type":"rule","color":"#c4c4c4","strokeWidth":1},
 "encoding":{"x":{"field":"g","type":"quantitative","axis":null},"y":{"datum":-35,"type":"quantitative","axis":null},"y2":{"datum":1203}}},
{"data":{"name":"bars"},"mark":{"type":"bar","width":1.5},
 "encoding":{"x":{"field":"t","type":"quantitative","axis":null},"y":{"field":"v","type":"quantitative","axis":null},"y2":{"datum":-30},
 "color":{"field":"k","type":"nominal","scale":{"domain":["g","r","n"],"range":["#4cb84c","#ff0000","#a9a9a9"]},"legend":null}}},
{"data":{"name":"vlev"},"mark":{"type":"text","align":"left","baseline":"middle","font":"Liberation Sans","fontSize":13,"color":"black"},
 "encoding":{"x":{"datum":503.9,"type":"quantitative","axis":null},"y":{"field":"v","type":"quantitative","axis":null},"text":{"field":"s"}}},
{"data":{"values":[{"s":"Volume"}]},"mark":{"type":"text","align":"left","baseline":"middle","font":"Liberation Sans","fontSize":13,"color":"black"},
 "encoding":{"x":{"datum":4.2,"type":"quantitative","axis":null},"y":{"datum":1081,"type":"quantitative","axis":null},"text":{"field":"s"}}},
{"data":{"name":"years"},"mark":{"type":"text","align":"center","baseline":"middle","font":"Liberation Sans","fontSize":13,"color":"black"},
 "encoding":{"x":{"field":"t","type":"quantitative","axis":null},"y":{"datum":-337,"type":"quantitative","axis":null},"text":{"field":"s"}}},
{"data":{"values":[{}]},"mark":{"type":"rule","color":"black","strokeWidth":1},
 "encoding":{"x":{"datum":-1.6,"type":"quantitative","axis":null},"x2":{"datum":501.3},"y":{"datum":1203.5,"type":"quantitative","axis":null}}},
{"data":{"values":[{}]},"mark":{"type":"rule","color":"black","strokeWidth":2},
 "encoding":{"x":{"datum":-1.6,"type":"quantitative","axis":null},"x2":{"datum":501.3},"y":{"datum":-40.7,"type":"quantitative","axis":null}}},
{"data":{"values":[{}]},"mark":{"type":"rule","color":"black","strokeWidth":2},
 "encoding":{"x":{"datum":-1.6,"type":"quantitative","axis":null},"x2":{"datum":501.3},"y":{"datum":-244.2,"type":"quantitative","axis":null}}},
{"data":{"values":[{"t":168.5},{"t":418.5}]},"mark":{"type":"rule","color":"black","strokeWidth":2},
 "encoding":{"x":{"field":"t","type":"quantitative","axis":null},"y":{"datum":-40.7,"type":"quantitative","axis":null},"y2":{"datum":-430.2}}}
]}
]
}
